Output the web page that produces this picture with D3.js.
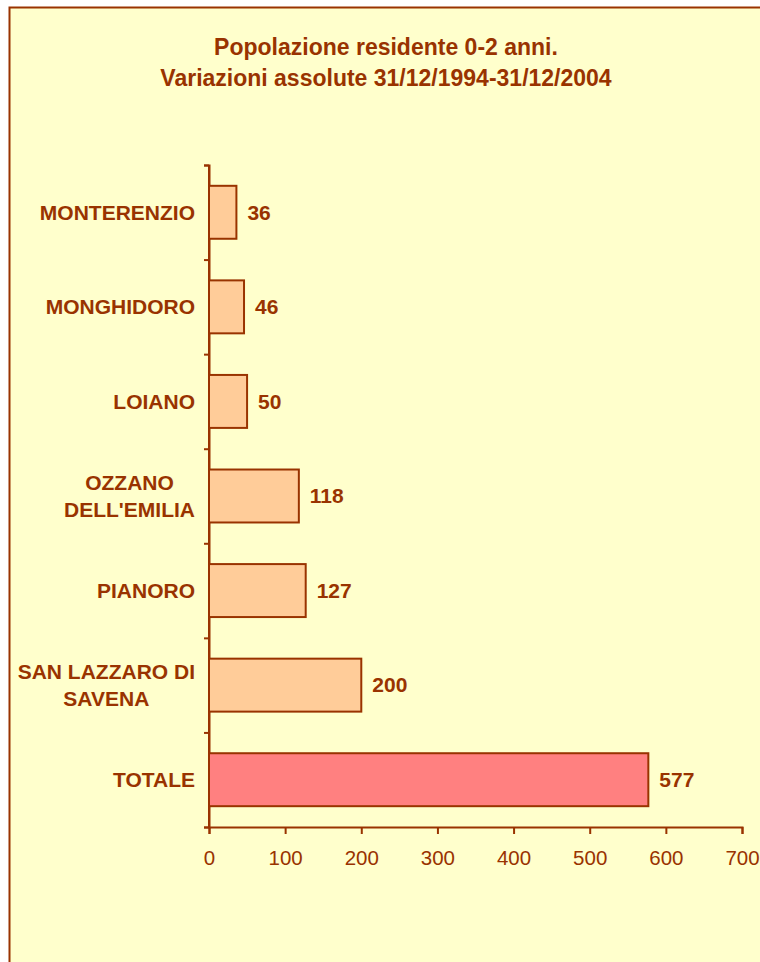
<!DOCTYPE html>
<html>
<head>
<meta charset="utf-8">
<script src="https://d3js.org/d3.v7.min.js"></script>
<style>
  body { margin: 0; background: #fff; }
  text { font-family: "Liberation Sans", Arial, sans-serif; }
</style>
</head>
<body>
<div id="chart"></div>
<script>
// data
var titleLines = ["Popolazione residente 0-2 anni.", "Variazioni assolute 31/12/1994-31/12/2004"];
var categories = ["MONTERENZIO", "MONGHIDORO", "LOIANO", "OZZANO DELL'EMILIA", "PIANORO", "SAN LAZZARO DI SAVENA", "TOTALE"];
var labelLines = [["MONTERENZIO"], ["MONGHIDORO"], ["LOIANO"], ["OZZANO", "DELL'EMILIA"], ["PIANORO"], ["SAN LAZZARO DI", "SAVENA"], ["TOTALE"]];
var values = [36, 46, 50, 118, 127, 200, 577];
var xTicks = [0, 100, 200, 300, 400, 500, 600, 700];

var W = 760, H = 962;
var dark = "#993300";

var svg = d3.select("#chart").append("svg")
    .attr("width", W)
    .attr("height", H);

// frame
svg.append("rect")
    .attr("x", 9.5).attr("y", 7.5)
    .attr("width", W + 20).attr("height", H + 20)
    .attr("fill", "#FFFFCC")
    .attr("stroke", dark)
    .attr("stroke-width", 2);

svg.append("g").selectAll("text")
    .data(titleLines)
    .enter().append("text")
    .attr("x", 386)
    .attr("y", function (d, i) { return 55 + i * 31; })
    .attr("text-anchor", "middle")
    .style("font-size", "23px")
    .style("font-weight", "bold")
    .style("fill", dark)
    .text(function (d) { return d; });

var x = d3.scaleLinear().domain([0, 700]).range([209, 742]);
var y = d3.scaleBand().domain(categories).range([165, 827]).paddingInner(0.44).paddingOuter(0.22);
var yEdge = d3.scaleLinear().domain([0, categories.length]).range([165, 827]);

// y axis: line plus ticks between categories
var yAxis = svg.append("g")
    .attr("transform", "translate(209,0)")
    .call(d3.axisLeft(yEdge).ticks(categories.length).tickSize(5).tickSizeOuter(5).tickFormat(""));
yAxis.selectAll("path, line").attr("stroke", dark).attr("stroke-width", 2);

var xAxis = svg.append("g")
    .attr("transform", "translate(0,827)")
    .call(d3.axisBottom(x).tickValues(xTicks).tickSize(7).tickSizeOuter(7).tickPadding(16));
xAxis.selectAll("path, line").attr("stroke", dark).attr("stroke-width", 2);
xAxis.selectAll("text")
    .style("font-family", "Liberation Sans, Arial, sans-serif")
    .style("font-size", "20.5px")
    .style("fill", dark);

svg.append("g").selectAll("rect")
    .data(values)
    .enter().append("rect")
    .attr("x", x(0))
    .attr("y", function (d, i) { return y(categories[i]); })
    .attr("width", function (d) { return x(d) - x(0); })
    .attr("height", y.bandwidth())
    .attr("fill", function (d, i) { return categories[i] == "TOTALE" ? "#FF8080" : "#FFCC99"; })
    .attr("stroke", dark)
    .attr("stroke-width", 2);

// re-draw y axis line on top of bars
svg.append("line")
    .attr("x1", 209).attr("x2", 209).attr("y1", 165).attr("y2", 827)
    .attr("stroke", dark).attr("stroke-width", 2);

svg.append("g").selectAll("text")
    .data(values)
    .enter().append("text")
    .attr("x", function (d) { return x(d) + 11; })
    .attr("y", function (d, i) { return y(categories[i]) + y.bandwidth() / 2; })
    .attr("dy", "0.35em")
    .style("font-size", "21px")
    .style("font-weight", "bold")
    .style("fill", dark)
    .text(function (d) { return d; });

// category labels, wrapped ones centred on their widest line
var labels = svg.append("g").selectAll("text")
    .data(labelLines)
    .enter().append("text")
    .style("font-size", "21px")
    .style("font-weight", "bold")
    .style("fill", dark);

labels.each(function (lines, i) {
    var t = d3.select(this);
    var cy = y(categories[i]) + y.bandwidth() / 2;
    var lh = 27;
    lines.forEach(function (l, k) {
        t.append("tspan")
            .attr("y", cy + (k - (lines.length - 1) / 2) * lh)
            .attr("dy", "0.35em")
            .text(l);
    });
    var maxW = 0;
    t.selectAll("tspan").each(function () { maxW = Math.max(maxW, this.getComputedTextLength()); });
    var cx = 195 - maxW / 2;
    t.attr("text-anchor", "middle");
    t.selectAll("tspan").attr("x", cx);
});
</script>
</body>
</html>
